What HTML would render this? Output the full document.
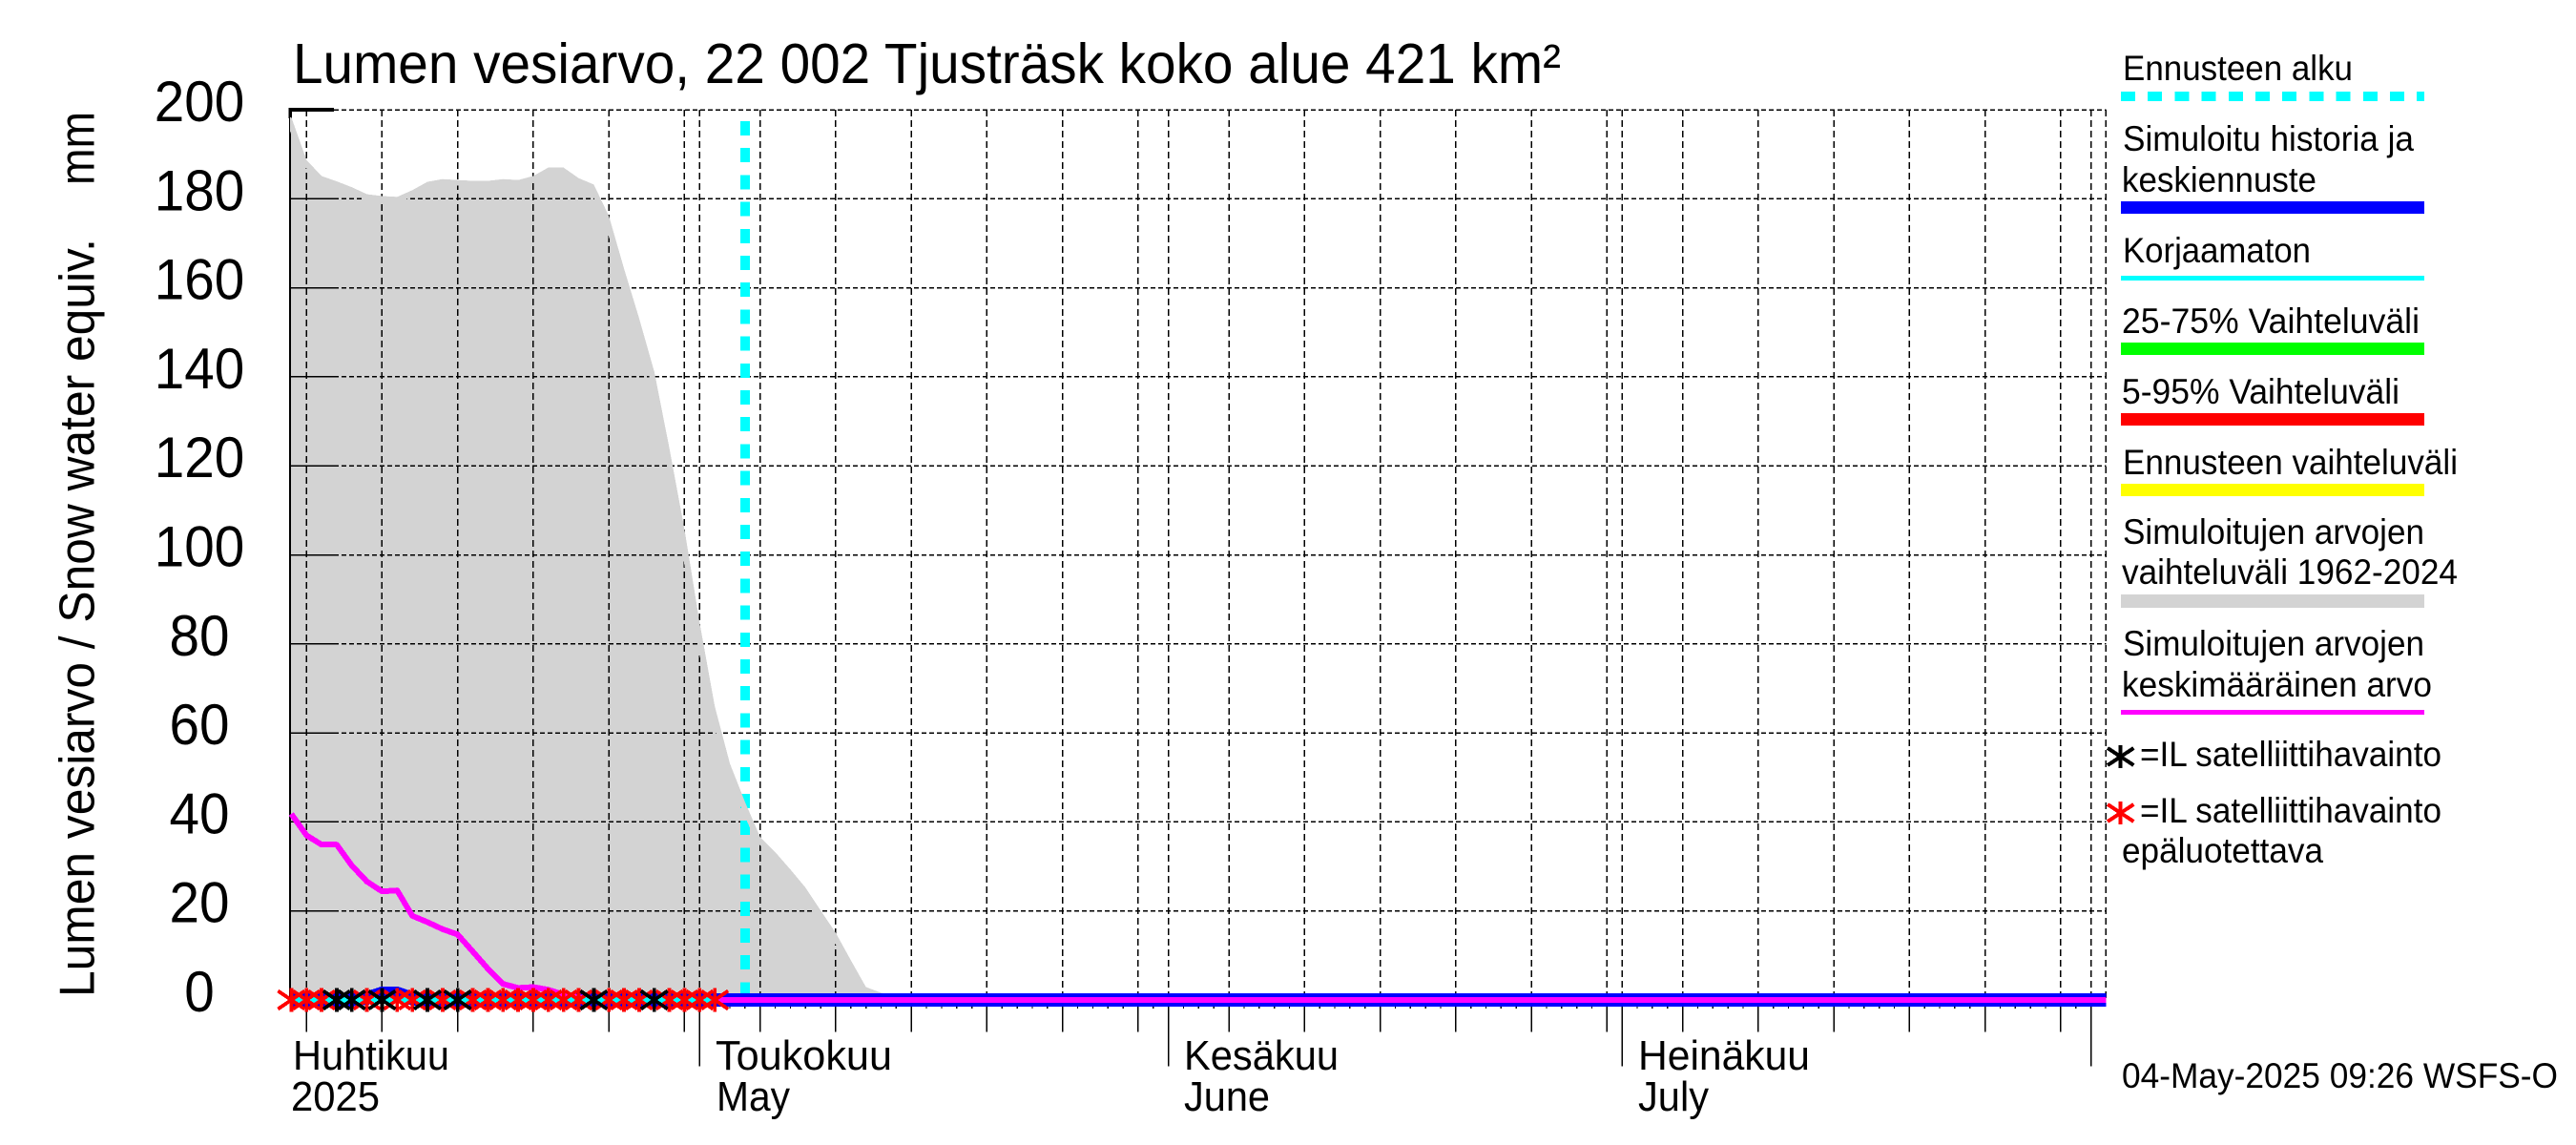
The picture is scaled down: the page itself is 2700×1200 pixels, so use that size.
<!DOCTYPE html>
<html lang="fi">
<head>
<meta charset="utf-8">
<title>Lumen vesiarvo, 22 002 Tjusträsk koko alue 421 km²</title>
<style>
html,body{margin:0;padding:0;background:#fff;}
svg{display:block;}
text{font-family:"Liberation Sans",Arial,sans-serif;fill:#000;}
#plot line,#plot path,svg rect,svg g line,svg g path{shape-rendering:crispEdges;}
</style>
</head>
<body>
<svg id="chart" xmlns="http://www.w3.org/2000/svg" width="2700" height="1200" viewBox="0 0 2700 1200">
  <rect x="0" y="0" width="2700" height="1200" fill="#fff"/>
  <g id="plot"></g>

  <text x="307" y="87" font-size="59" textLength="1329" lengthAdjust="spacingAndGlyphs">Lumen vesiarvo, 22 002 Tjusträsk koko alue 421 km²</text>
  <text transform="translate(98.7,1045) rotate(-90)" font-size="52" textLength="795" lengthAdjust="spacingAndGlyphs">Lumen vesiarvo / Snow water equiv.</text>
  <text transform="translate(98.7,194) rotate(-90)" font-size="52" textLength="77" lengthAdjust="spacingAndGlyphs">mm</text>

  <text x="307" y="1121" font-size="44" textLength="164" lengthAdjust="spacingAndGlyphs">Huhtikuu</text>
  <text x="305" y="1164" font-size="44" textLength="93" lengthAdjust="spacingAndGlyphs">2025</text>
  <text x="750" y="1121" font-size="44" textLength="185" lengthAdjust="spacingAndGlyphs">Toukokuu</text>
  <text x="751" y="1164" font-size="44" textLength="77" lengthAdjust="spacingAndGlyphs">May</text>
  <text x="1241" y="1121" font-size="44" textLength="162" lengthAdjust="spacingAndGlyphs">Kesäkuu</text>
  <text x="1241" y="1164" font-size="44" textLength="90" lengthAdjust="spacingAndGlyphs">June</text>
  <text x="1717" y="1121" font-size="44" textLength="180" lengthAdjust="spacingAndGlyphs">Heinäkuu</text>
  <text x="1717" y="1164" font-size="44" textLength="74" lengthAdjust="spacingAndGlyphs">July</text>

  <g>
    <text x="2225" y="84" font-size="37" textLength="241" lengthAdjust="spacingAndGlyphs">Ennusteen alku</text>
    <line x1="2223" y1="101" x2="2541" y2="101" stroke="#00ffff" stroke-width="10" stroke-dasharray="15 13.2"/>
    <text x="2225" y="158" font-size="37" textLength="305" lengthAdjust="spacingAndGlyphs">Simuloitu historia ja</text>
    <text x="2224" y="201" font-size="37" textLength="204" lengthAdjust="spacingAndGlyphs">keskiennuste</text>
    <rect x="2223" y="211" width="318" height="13" fill="#0000ff"/>
    <text x="2225" y="275" font-size="37" textLength="197" lengthAdjust="spacingAndGlyphs">Korjaamaton</text>
    <rect x="2223" y="289" width="318" height="5" fill="#00ffff"/>
    <text x="2224" y="349" font-size="37" textLength="312" lengthAdjust="spacingAndGlyphs">25-75% Vaihteluväli</text>
    <rect x="2223" y="359" width="318" height="13" fill="#00ff00"/>
    <text x="2224" y="423" font-size="37" textLength="291" lengthAdjust="spacingAndGlyphs">5-95% Vaihteluväli</text>
    <rect x="2223" y="433" width="318" height="13" fill="#ff0000"/>
    <text x="2225" y="497" font-size="37" textLength="351" lengthAdjust="spacingAndGlyphs">Ennusteen vaihteluväli</text>
    <rect x="2223" y="507" width="318" height="13" fill="#ffff00"/>
    <text x="2225" y="570" font-size="37" textLength="316" lengthAdjust="spacingAndGlyphs">Simuloitujen arvojen</text>
    <text x="2224" y="612" font-size="37" textLength="352" lengthAdjust="spacingAndGlyphs">vaihteluväli 1962-2024</text>
    <rect x="2223" y="623" width="318" height="14" fill="#d3d3d3"/>
    <text x="2225" y="687" font-size="37" textLength="316" lengthAdjust="spacingAndGlyphs">Simuloitujen arvojen</text>
    <text x="2224" y="730" font-size="37" textLength="325" lengthAdjust="spacingAndGlyphs">keskimääräinen arvo</text>
    <rect x="2223" y="744" width="318" height="5" fill="#ff00ff"/>
    <g stroke="#000" stroke-width="4" fill="none">
      <path d="M2222.7 781V805M2209 784L2236.4 802M2209 802L2236.4 784"/>
    </g>
    <text x="2243" y="803" font-size="37" textLength="316" lengthAdjust="spacingAndGlyphs">=IL satelliittihavainto</text>
    <g stroke="#ff0000" stroke-width="4" fill="none">
      <path d="M2222.7 840V864M2209 843L2236.4 861M2209 861L2236.4 843"/>
    </g>
    <text x="2243" y="862" font-size="37" textLength="316" lengthAdjust="spacingAndGlyphs">=IL satelliittihavainto</text>
    <text x="2224" y="904" font-size="37" textLength="211" lengthAdjust="spacingAndGlyphs">epäluotettava</text>
  </g>
  <text x="2224" y="1140" font-size="37" textLength="457" lengthAdjust="spacingAndGlyphs">04-May-2025 09:26 WSFS-O</text>
</svg>

<script>
// ---- chart data (days are counted from 1 May 2025; series start 4 April = day -27) ----
const yTickValues = [0, 20, 40, 60, 80, 100, 120, 140, 160, 180, 200];
const gridDays = [-26, -21, -16, -11, -6, -1, 0, 4, 9, 14, 19, 24, 29, 31, 35, 40, 45, 50, 55, 60, 61, 65, 70, 75, 80, 85, 90, 92];
const monthStartDays = [0, 31, 61, 92];
const firstDay = -27;
const lastDay = 93;
const forecastStartDay = 3;
const simulatedMax = [198.3, 188.7, 185.1, 183.9, 182.6, 181.0, 180.6, 180.4, 181.9, 183.8, 184.4, 184.2, 184.0, 184.0, 184.4, 184.2, 185.1, 187.0, 187.0, 184.6, 183.2, 176.1, 164.3, 153.1, 141.1, 123.9, 105.7, 84.7, 66.0, 53.1, 44.5, 36.6, 33.2, 29.3, 25.2, 20.1, 15.1, 8.9, 2.9, 1.6, 0.7, 0];
const simulatedMean = [41.8, 37.0, 34.9, 34.9, 30.2, 26.6, 24.4, 24.6, 18.9, 17.5, 15.9, 14.7, 10.9, 7.0, 3.6, 2.7, 2.9, 2.3, 1.2, 0.6, 0.2, 0, 0, 0, 0, 0, 0, 0, 0, 0, 0];
const simulatedHistory = [0, 0, 0, 0, 0, 0.4, 1.5, 1.5, 0.3, 0, 0, 0, 0, 0, 0, 0, 0, 0, 0, 0, 0, 0, 0, 0, 0, 0, 0, 0, 0, 0, 0];
const uncorrectedHistory = [0, 0, 0, 0, 0, 0, 0, 0, 0, 0, 0, 0, 0, 0, 0, 0, 0, 0, 0, 0, 0, 0, 0, 0, 0, 0, 0, 0, 0];
const forecastValue = [0];
const satelliteValues = [0, 0, 0, 0, 0, 0, 0, 0, 0, 0, 0, 0, 0, 0, 0, 0, 0, 0, 0, 0, 0, 0, 0, 0, 0, 0, 0, 0, 0];
const satelliteReliable = [0, 0, 0, 1, 1, 0, 1, 0, 0, 1, 0, 1, 0, 0, 0, 0, 0, 0, 0, 0, 1, 0, 0, 0, 1, 0, 0, 0, 0];

// ---- axis functions ----
const xDay = d => 733.3 + 15.85 * d;
const xIdx = i => xDay(firstDay + i);
const yVal = v => 1048 - 4.665 * v;
const plotLeft = 304;
const plotRight = xDay(lastDay);
const SVGNS = 'http://www.w3.org/2000/svg';
const plot = document.getElementById('plot');

function make(tag, attrs, parent) {
  const e = document.createElementNS(SVGNS, tag);
  for (const k in attrs) e.setAttribute(k, attrs[k]);
  (parent || plot).appendChild(e);
  return e;
}
function linePath(values, extendTo) {
  let d = values.map((v, i) => (i ? 'L' : 'M') + xIdx(i).toFixed(1) + ' ' + yVal(v).toFixed(1)).join('');
  if (extendTo !== undefined) d += 'L' + extendTo.toFixed(1) + ' ' + yVal(forecastValue[0]).toFixed(1);
  return d;
}

// ---- simulated range fill ----
const lastMaxX = xIdx(simulatedMax.length - 1);
const rangeOutline = 'M' + plotLeft + ' ' + yVal(simulatedMax[0]).toFixed(1) +
  linePath(simulatedMax).replace('M', 'L');
const rangeArea = rangeOutline + 'L' + lastMaxX.toFixed(1) + ' ' + yVal(0) + 'L' + plotLeft + ' ' + yVal(0) + 'Z';
const fillEl = make('path', {d: rangeArea, fill: '#d3d3d3'});



const defs = make('defs', {});
const clip = make('clipPath', {id: 'rangeClip'}, defs);
make('path', {d: rangeArea}, clip);

// ---- grid ----
for (const v of yTickValues) {
  const y = yVal(v);
  const g = make('line', {x1: 350, y1: y, x2: plotRight, y2: y, stroke: '#000', 'stroke-width': 1.5, 'stroke-dasharray': '5 3'});
  
  
  const t = make('line', {x1: plotLeft, y1: y, x2: 350, y2: y, stroke: '#000', 'stroke-width': v === 200 ? 4 : 1.5});
  
  
  const lab = make('text', {x: 209, y: y + 12, 'font-size': 60, 'text-anchor': 'middle', textLength: String(v).length * 31.5, lengthAdjust: 'spacingAndGlyphs'});
  lab.textContent = String(v);
  
  
}
for (const d of gridDays) {
  const x = xDay(d);
  const g = make('line', {x1: x, y1: yVal(200), x2: x, y2: yVal(0) - 6, stroke: '#000', 'stroke-width': 1.5, 'stroke-dasharray': '7 4'});
  
  
  const t = make('line', {x1: x, y1: yVal(0) + 6, x2: x, y2: monthStartDays.includes(d) ? 1117.7 : 1081.7, stroke: '#000', 'stroke-width': 1.5});
  
  
}
for (let d = firstDay; d < lastDay; d++) {
  const t = make('line', {x1: xDay(d), y1: yVal(0) + 6, x2: xDay(d), y2: 1057, stroke: '#000', 'stroke-width': 1.3});
  
  
}
const rightEdge = make('line', {x1: plotRight, y1: yVal(200), x2: plotRight, y2: yVal(0), stroke: '#000', 'stroke-width': 1.5, 'stroke-dasharray': '7 4'});


const yAxis = make('line', {x1: plotLeft, y1: 113, x2: plotLeft, y2: yVal(0), stroke: '#000', 'stroke-width': 1.8});


const corner = make('line', {x1: plotLeft, y1: 113, x2: plotLeft, y2: 124, stroke: '#000', 'stroke-width': 3.5});



// ---- forecast start ----
const fs = make('line', {x1: xDay(forecastStartDay), y1: 127, x2: xDay(forecastStartDay), y2: yVal(0) - 6, stroke: '#00ffff', 'stroke-width': 10, 'stroke-dasharray': '15 13.2'});



// ---- thick outline of the range, kept inside the area ----
const outlineEl = make('path', {d: rangeOutline, fill: 'none', stroke: '#d3d3d3', 'stroke-width': 12, 'clip-path': 'url(#rangeClip)'});



// ---- series ----
const blueLine = make('path', {d: linePath(simulatedHistory, plotRight), fill: 'none', stroke: '#0000ff', 'stroke-width': 14, 'stroke-linejoin': 'round'});


const meanLine = make('path', {d: linePath(simulatedMean, plotRight), fill: 'none', stroke: '#ff00ff', 'stroke-width': 6, 'stroke-linejoin': 'round'});


const cyanLine = make('path', {d: linePath(uncorrectedHistory), fill: 'none', stroke: '#00ffff', 'stroke-width': 7});



// ---- satellite observations ----
function star(i, color) {
  const x = xIdx(i), y = yVal(satelliteValues[i]);
  const d = 'M' + x + ' ' + (y - 12.7) + 'V' + (y + 12.7) +
    'M' + (x - 14) + ' ' + (y - 9.5) + 'L' + (x + 14) + ' ' + (y + 9.5) +
    'M' + (x - 14) + ' ' + (y + 9.5) + 'L' + (x + 14) + ' ' + (y - 9.5);
  return make('path', {d: d, fill: 'none', stroke: color, 'stroke-width': 3.8});
}
satelliteValues.forEach((v, i) => {
  if (!satelliteReliable[i]) {
    const s = star(i, '#ff0000');
    
    
  }
});
satelliteValues.forEach((v, i) => {
  if (satelliteReliable[i]) {
    const s = star(i, '#000000');
    
    
  }
});
</script>
</body>
</html>
